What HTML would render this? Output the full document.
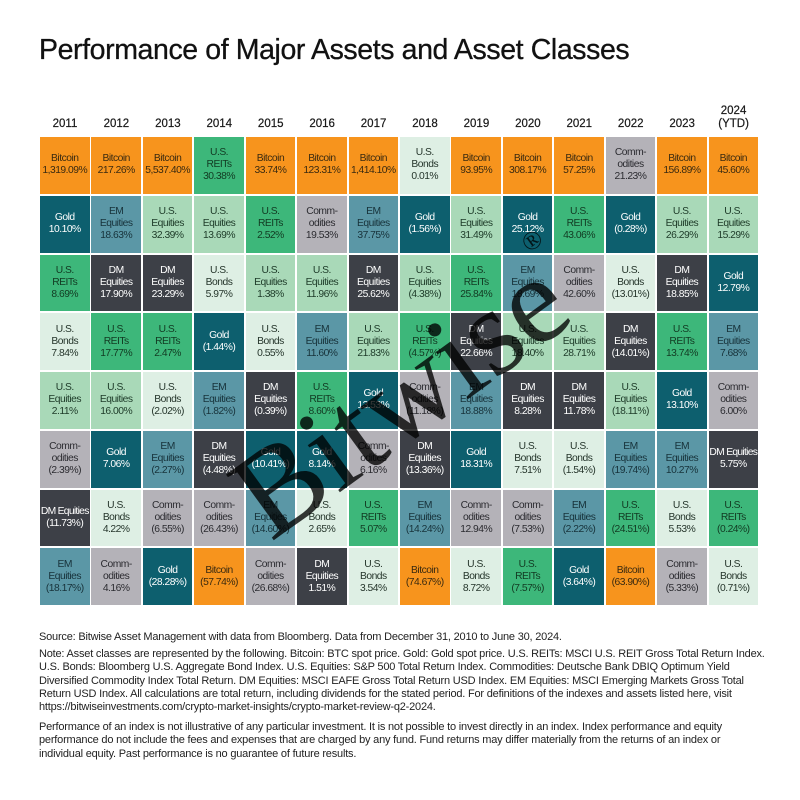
<!DOCTYPE html>
<html><head><meta charset="utf-8"><style>
body{margin:0;width:800px;height:800px;background:#fff;font-family:"Liberation Sans",sans-serif;color:#1a1a1a;position:relative;overflow:hidden}
h1{position:absolute;left:39px;top:34px;margin:0;font-size:28.5px;font-weight:normal;letter-spacing:-0.4px;color:#111;-webkit-text-stroke:0.3px #111}
.yr{position:absolute;top:104px;width:51px;text-align:center;font-size:11.5px;line-height:13px;height:27px;display:flex;align-items:flex-end;justify-content:center;-webkit-text-stroke:0.2px #111}
.c{position:absolute;width:49.5px;height:56.8px;display:flex;align-items:center;justify-content:center;text-align:center;font-size:10.3px;line-height:12px;letter-spacing:-0.5px}
.B{background:#f7941d;color:#3a2a10}.G{background:#0d5f6e;color:#fff}.E{background:#5b97a6;color:#17323a}
.Q{background:#a9d9b8;color:#1d3a28}.R{background:#3db77a;color:#123a22}.D{background:#3d4047;color:#fff}
.N{background:#deefe4;color:#25352b}.C{background:#b4b2b8;color:#2b2b30}
.nw{white-space:nowrap;letter-spacing:-0.7px}
.wm{position:absolute;left:408px;top:392px;transform:translate(-50%,-50%) rotate(-36deg);font-family:"Liberation Serif",serif;font-size:124px;color:rgba(0,0,0,0.78);white-space:nowrap;line-height:1}
.ft{position:absolute;left:39px;width:727px;font-size:11px;line-height:13.3px;color:#222;letter-spacing:-0.2px}
</style></head><body>
<h1>Performance of Major Assets and Asset Classes</h1>
<div id="g"></div>
<div class="wm">Bitwise<span style="font-size:26px;vertical-align:top">®</span></div>
<div class="ft" style="top:631px">Source: Bitwise Asset Management with data from Bloomberg. Data from December 31, 2010 to June 30, 2024.</div>
<div class="ft" style="top:648px">Note: Asset classes are represented by the following. Bitcoin: BTC spot price. Gold: Gold spot price. U.S. REITs: MSCI U.S. REIT Gross Total Return Index. U.S. Bonds: Bloomberg U.S. Aggregate Bond Index. U.S. Equities: S&amp;P 500 Total Return Index. Commodities: Deutsche Bank DBIQ Optimum Yield Diversified Commodity Index Total Return. DM Equities: MSCI EAFE Gross Total Return USD Index. EM Equities: MSCI Emerging Markets Gross Total Return USD Index. All calculations are total return, including dividends for the stated period. For definitions of the indexes and assets listed here, visit https://bitwiseinvestments.com/crypto-market-insights/crypto-market-review-q2-2024.</div>
<div class="ft" style="top:721px">Performance of an index is not illustrative of any particular investment. It is not possible to invest directly in an index. Index performance and equity performance do not include the fees and expenses that are charged by any fund. Fund returns may differ materially from the returns of an index or individual equity. Past performance is no guarantee of future results.</div>
<script>
var L={B:"Bitcoin",G:"Gold",E:"EM<br>Equities",Q:"U.S.<br>Equities",R:"U.S.<br>REITs",D:"DM<br>Equities",N:"U.S.<br>Bonds",C:"Comm-<br>odities"};
var cols=[
["2011","B 1,319.09%|G 10.10%|R 8.69%|N 7.84%|Q 2.11%|C (2.39%)|D (11.73%)|E (18.17%)"],
["2012","B 217.26%|E 18.63%|D 17.90%|R 17.77%|Q 16.00%|G 7.06%|N 4.22%|C 4.16%"],
["2013","B 5,537.40%|Q 32.39%|D 23.29%|R 2.47%|N (2.02%)|E (2.27%)|C (6.55%)|G (28.28%)"],
["2014","R 30.38%|Q 13.69%|N 5.97%|G (1.44%)|E (1.82%)|D (4.48%)|C (26.43%)|B (57.74%)"],
["2015","B 33.74%|R 2.52%|Q 1.38%|N 0.55%|D (0.39%)|G (10.41%)|E (14.60%)|C (26.68%)"],
["2016","B 123.31%|C 19.53%|Q 11.96%|E 11.60%|R 8.60%|G 8.14%|N 2.65%|D 1.51%"],
["2017","B 1,414.10%|E 37.75%|D 25.62%|Q 21.83%|G 13.53%|C 6.16%|R 5.07%|N 3.54%"],
["2018","N 0.01%|G (1.56%)|Q (4.38%)|R (4.57%)|C (11.18%)|D (13.36%)|E (14.24%)|B (74.67%)"],
["2019","B 93.95%|Q 31.49%|R 25.84%|D 22.66%|E 18.88%|G 18.31%|C 12.94%|N 8.72%"],
["2020","B 308.17%|G 25.12%|E 18.69%|Q 18.40%|D 8.28%|N 7.51%|C (7.53%)|R (7.57%)"],
["2021","B 57.25%|R 43.06%|C 42.60%|Q 28.71%|D 11.78%|N (1.54%)|E (2.22%)|G (3.64%)"],
["2022","C 21.23%|G (0.28%)|N (13.01%)|D (14.01%)|Q (18.11%)|E (19.74%)|R (24.51%)|B (63.90%)"],
["2023","B 156.89%|Q 26.29%|D 18.85%|R 13.74%|G 13.10%|E 10.27%|N 5.53%|C (5.33%)"],
["2024<br>(YTD)","B 45.60%|Q 15.29%|G 12.79%|E 7.68%|C 6.00%|D 5.75%|R (0.24%)|N (0.71%)"]];
var h="";
cols.forEach(function(c,i){
 var x=40+i*51.43;
 h+='<div class="yr" style="left:'+(x-0.5)+'px">'+c[0]+'</div>';
 c[1].split("|").forEach(function(s,j){
  var k=s[0],v=s.slice(2),lab=L[k];
  if(k=="D"&&(i==0||i==13))lab='<span class="nw">DM Equities</span>';
  h+='<div class="c '+k+'" style="left:'+x+'px;top:'+(137+j*58.75)+'px"><div>'+lab+'<br>'+v+'</div></div>';
 });
});
document.getElementById("g").innerHTML=h;
</script>
</body></html>
